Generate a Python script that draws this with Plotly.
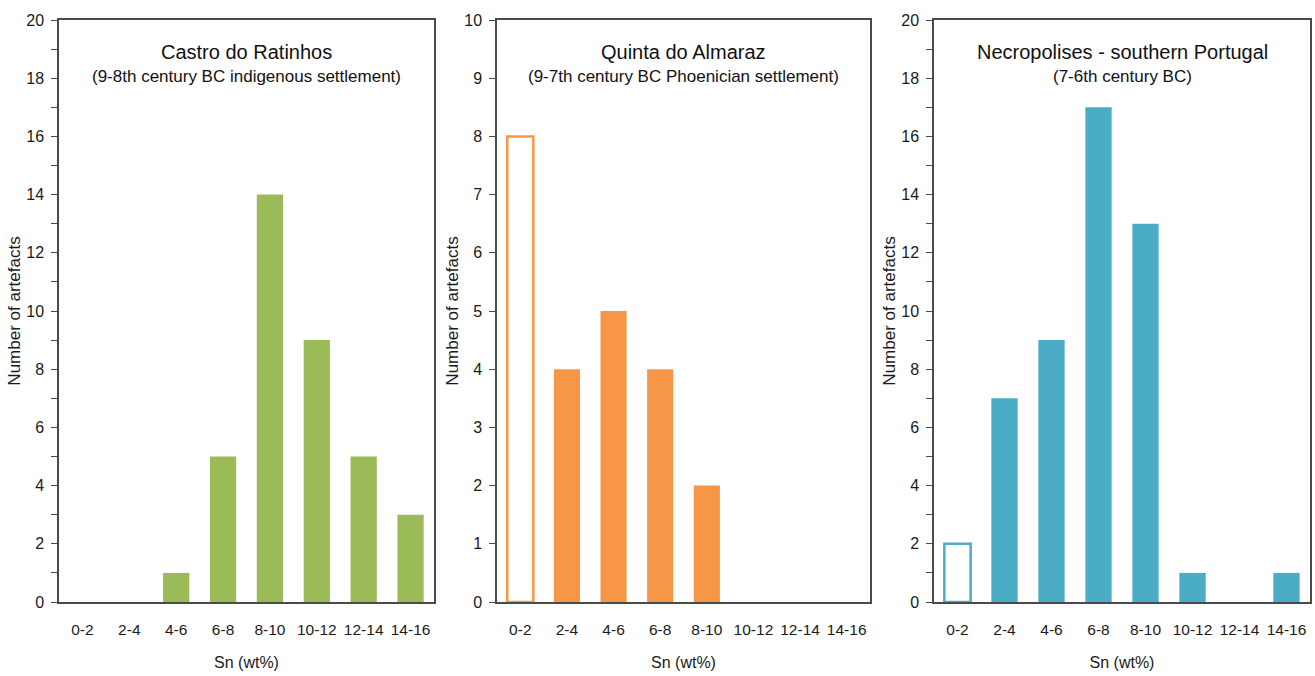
import plotly.graph_objects as go

categories = ["0-2", "2-4", "4-6", "6-8", "8-10", "10-12", "12-14", "14-16"]

ratinhos_counts = [0, 0, 1, 5, 14, 9, 5, 3]
almaraz_counts = [8, 4, 5, 4, 2, 0, 0, 0]
necropolis_counts = [2, 7, 9, 17, 13, 1, 0, 1]

ratinhos_open = [False] * 8
almaraz_open = [True, False, False, False, False, False, False, False]
necropolis_open = [True, False, False, False, False, False, False, False]

titles = ["Castro do Ratinhos", "Quinta do Almaraz", "Necropolises - southern Portugal"]
subtitles = ["(9-8th century BC indigenous settlement)",
             "(9-7th century BC Phoenician settlement)",
             "(7-6th century BC)"]
colors = ["#9BBB59", "#F79646", "#4BACC6"]
y_max = [20, 10, 20]
y_major = [2, 1, 2]
y_minor = [1, None, 1]

W, H = 1315, 676
x_domains = [(59, 434), (497, 870), (934, 1310)]
y_top, y_bot = 20, 602

FONT = "Liberation Sans, Arial, sans-serif"
AX = "#4a4a4a"
TXT = "#1a1a1a"

fig = go.Figure()
series = [ratinhos_counts, almaraz_counts, necropolis_counts]
opens = [ratinhos_open, almaraz_open, necropolis_open]

for i in range(3):
    n = "" if i == 0 else str(i + 1)
    fill = ["white" if o else colors[i] for o in opens[i]]
    line_c = [colors[i] if o else "white" for o in opens[i]]
    line_w = [2.5 if o else 0 for o in opens[i]]
    fig.add_trace(go.Bar(
        x=categories, y=series[i], xaxis="x" + n, yaxis="y" + n,
        marker=dict(color=fill, line=dict(color=line_c, width=line_w)),
        width=0.56, showlegend=False,
    ))
    xd = (x_domains[i][0] / W, x_domains[i][1] / W)
    yd = (1 - y_bot / H, 1 - y_top / H)
    fig.layout["xaxis" + n] = dict(
        domain=xd, anchor="y" + n, type="category", automargin=False,
        showline=True, linecolor=AX, linewidth=1.5, mirror=True,
        ticks="", showgrid=False, zeroline=False, tickangle=0,
        ticklabelstandoff=13,
        tickfont=dict(family=FONT, size=15.5, color=TXT),
        title=dict(text="Sn (wt%)", font=dict(family=FONT, size=16, color=TXT), standoff=19),
    )
    ya = dict(
        domain=yd, anchor="x" + n, range=[0, y_max[i]], automargin=False,
        dtick=y_major[i], tick0=0,
        showline=True, linecolor=AX, linewidth=1.5, mirror=True,
        ticks="outside", ticklen=6, tickcolor=AX, tickwidth=1.2,
        ticklabelstandoff=4,
        showgrid=False, zeroline=False,
        tickfont=dict(family=FONT, size=16, color=TXT),
        title=dict(text="Number of artefacts", font=dict(family=FONT, size=17, color=TXT), standoff=1),
    )
    if y_minor[i]:
        ya["minor"] = dict(dtick=y_minor[i], ticks="outside", ticklen=6, tickcolor=AX, tickwidth=1.2, showgrid=False)
    fig.layout["yaxis" + n] = ya
    xc = (xd[0] + xd[1]) / 2
    fig.add_annotation(text=titles[i], x=xc, y=1 - 52 / H, xref="paper", yref="paper",
                       showarrow=False, font=dict(family=FONT, size=20, color="#111"),
                       xanchor="center", yanchor="middle")
    fig.add_annotation(text=subtitles[i], x=xc, y=1 - 77 / H, xref="paper", yref="paper",
                       showarrow=False, font=dict(family=FONT, size=17, color="#111"),
                       xanchor="center", yanchor="middle")

fig.update_layout(
    width=W, height=H, margin=dict(l=0, r=0, t=0, b=0),
    paper_bgcolor="white", plot_bgcolor="white",
    bargap=0.44,
)
fig.write_html("out.html")
